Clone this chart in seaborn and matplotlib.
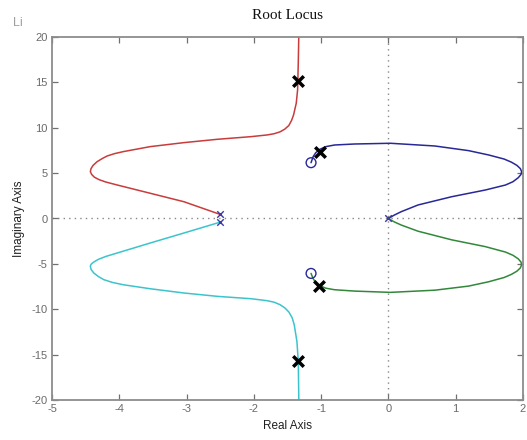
import matplotlib
matplotlib.use("Agg")
import matplotlib.pyplot as plt
import seaborn as sns
import pandas as pd

# ---- data ----
red_x = [-2.50, -3.04, -3.54, -4.03, -4.20, -4.30, -4.37, -4.41, -4.43, -4.42, -4.39, -4.33,
         -4.25, -4.18, -4.07, -3.94, -3.54, -3.04, -2.54, -2.04, -1.80, -1.70, -1.61,
         -1.54, -1.48, -1.44, -1.41, -1.37, -1.35, -1.34, -1.33]
red_y = [0.45, 1.85, 2.78, 3.69, 4.02, 4.28, 4.55, 4.85, 5.16, 5.50, 5.85, 6.26,
         6.62, 6.89, 7.15, 7.37, 7.92, 8.36, 8.73, 9.02, 9.21, 9.34, 9.55,
         9.85, 10.25, 10.80, 11.41, 12.70, 14.17, 17.11, 21.0]

cyan_x = [-2.50, -3.04, -3.54, -4.03, -4.20, -4.31, -4.38, -4.42, -4.43, -4.42, -4.38,
          -4.31, -4.23, -4.10, -3.94, -3.54, -3.04, -2.54, -2.04, -1.80, -1.70, -1.61,
          -1.54, -1.48, -1.43, -1.40, -1.36, -1.34, -1.33]
cyan_y = [-0.40, -1.60, -2.70, -3.80, -4.18, -4.50, -4.80, -5.05, -5.27, -5.60, -6.00,
          -6.40, -6.74, -7.05, -7.30, -7.74, -8.21, -8.58, -8.84, -9.06, -9.22, -9.50,
          -9.85, -10.30, -10.95, -11.71, -13.54, -15.74, -21.0]

blue_x = [0.00, 0.08, 0.19, 0.44, 0.94, 1.44, 1.74, 1.85, 1.93, 1.97, 1.98, 1.96, 1.91,
          1.83, 1.72, 1.49, 1.19, 0.69, 0.03, -0.50, -0.80, -0.93, -1.02, -1.08, -1.12, -1.15]
blue_y = [0.00, 0.35, 0.75, 1.49, 2.40, 3.14, 3.69, 4.05, 4.50, 4.85, 5.16, 5.50, 5.85,
          6.20, 6.55, 7.00, 7.48, 7.99, 8.29, 8.21, 8.10, 7.92, 7.62, 7.25, 6.80, 6.15]

green_x = [0.00, 0.08, 0.19, 0.44, 0.94, 1.44, 1.74, 1.85, 1.93, 1.97, 1.98, 1.96, 1.91,
           1.83, 1.72, 1.49, 1.19, 0.69, 0.03, -0.50, -0.80, -0.93, -1.02, -1.08, -1.12, -1.15]
green_y = [0.00, -0.35, -0.72, -1.40, -2.35, -3.10, -3.70, -4.05, -4.45, -4.80, -5.10, -5.45,
           -5.80, -6.15, -6.50, -6.97, -7.45, -7.90, -8.14, -8.00, -7.85, -7.68, -7.40,
           -7.05, -6.62, -6.05]

gain_x = [-1.35, -1.01, -1.03, -1.34]
gain_y = [15.1, 7.37, -7.40, -15.7]

zero_x = [-1.15, -1.15]
zero_y = [6.15, -6.05]

pole_x = [-2.5, -2.5, 0.0]
pole_y = [0.45, -0.40, 0.0]

x_ticks = [-5, -4, -3, -2, -1, 0, 1, 2]
y_ticks = [-20, -15, -10, -5, 0, 5, 10, 15, 20]

# ---- figure ----
sns.set_theme(style="white")
plt.rcParams['font.family'] = ['Liberation Sans', 'DejaVu Sans']

fig = plt.figure(figsize=(5.27, 4.40), dpi=100)
ax = fig.add_axes([52/527, 40/440, 471/527, 363/440])

branches = [
    (red_x, red_y, "#c83c3c"),
    (cyan_x, cyan_y, "#3cc4cc"),
    (blue_x, blue_y, "#282896"),
    (green_x, green_y, "#32883a"),
]
for bx, by, col in branches:
    df = pd.DataFrame({"x": bx, "y": by})
    sns.lineplot(data=df, x="x", y="y", sort=False, estimator=None, color=col,
                 linewidth=1.1, ax=ax)

ax.axhline(0, color="#888888", linestyle=(0, (1, 3)), linewidth=1.0, zorder=0)
ax.axvline(0, color="#888888", linestyle=(0, (1, 3)), linewidth=1.0, zorder=0)

sns.scatterplot(x=pole_x, y=pole_y, marker="x", s=22, color="#3a3aa0", linewidth=1.0, ax=ax, zorder=4)
sns.scatterplot(x=zero_x, y=zero_y, marker="o", s=50, facecolors="none", edgecolor="#28289a",
                linewidth=1.0, ax=ax, zorder=4)
sns.scatterplot(x=gain_x, y=gain_y, marker="x", s=58, color="black", linewidth=2.5, ax=ax, zorder=5)

ax.set_xlim(-5, 2)
ax.set_ylim(-20, 20)
ax.set_xticks(x_ticks)
ax.set_yticks(y_ticks)
ax.set_xticklabels([str(t) for t in x_ticks])
ax.set_yticklabels([str(t) for t in y_ticks])

for sp in ax.spines.values():
    sp.set_visible(True)
    sp.set_color("#8c8c8c")
    sp.set_linewidth(1.3)

ax.tick_params(direction="in", length=4, width=0.9, color="#707070", labelcolor="#6a6a6a",
               labelsize=8, top=True, right=True, bottom=True, left=True, pad=3)

ax.set_xlabel("Real Axis", fontsize=8.5, color="#202020", labelpad=4)
ax.set_ylabel("Imaginary Axis", fontsize=8.5, color="#202020", labelpad=5)
ax.set_title("Root Locus", fontsize=11, family=["Liberation Serif", "DejaVu Serif"],
             color="#111111", pad=13)

fig.text(13/527, 1 - 23/440, "Li", fontsize=9, color="#a0a0a0", va="center", ha="left")

fig.savefig("out.png", dpi=100)
